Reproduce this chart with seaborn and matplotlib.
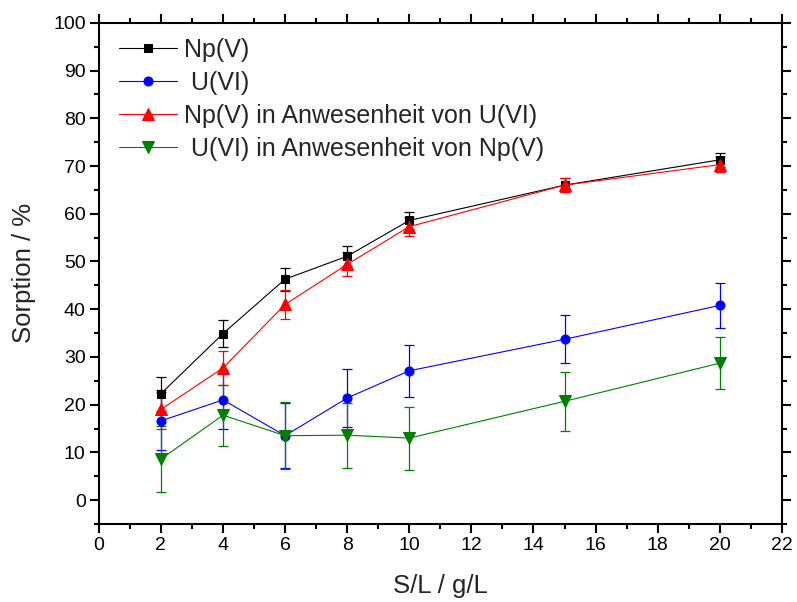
import matplotlib
matplotlib.use("Agg")
import matplotlib.pyplot as plt
import seaborn as sns
import pandas as pd
import numpy as np
from matplotlib.ticker import MultipleLocator

sl = [2, 4, 6, 8, 10, 15, 20]
np_v = [22.3, 34.9, 46.3, 51.1, 58.6, 66.0, 71.3]
np_v_err = [3.6, 2.9, 2.4, 2.1, 1.7, 1.4, 1.4]
u_vi = [16.6, 21.0, 13.5, 21.4, 27.1, 33.7, 40.8]
u_vi_err = [6.0, 6.2, 6.8, 6.0, 5.5, 5.0, 4.7]
np_u = [19.0, 27.7, 41.0, 49.4, 57.3, 66.0, 70.3]
np_u_err = [4.0, 3.5, 3.0, 2.5, 2.0, 1.5, 1.5]
u_np = [8.6, 17.8, 13.5, 13.6, 13.0, 20.7, 28.7]
u_np_err = [7.0, 6.4, 7.0, 6.8, 6.6, 6.2, 5.5]

labels = ["Np(V)", " U(VI)", "Np(V) in Anwesenheit von U(VI)", " U(VI) in Anwesenheit von Np(V)"]
series = [np_v, u_vi, np_u, u_np]
errs = [np_v_err, u_vi_err, np_u_err, u_np_err]
colors = ["black", "#0000ff", "#ff0000", "#007f00"]
markers = ["s", "o", "^", "v"]
msizes = [5.5, 6.5, 8.5, 8.5]

rows = []
for lab, ys in zip(labels, series):
    for x, y in zip(sl, ys):
        rows.append({"S/L": x, "Sorption": y, "Serie": lab})
df = pd.DataFrame(rows)

sns.set_style("ticks")
plt.rcParams["font.family"] = ["Liberation Sans", "DejaVu Sans"]

fig = plt.figure(figsize=(7.97, 6.02), dpi=100)
ax = fig.add_axes([0.124, 0.1296, 0.857, 0.8324])

for lab, ys, e, c in zip(labels, series, errs, colors):
    ax.errorbar(sl, ys, yerr=e, fmt="none", ecolor=c, elinewidth=0.9,
                capsize=3.6, capthick=0.9, zorder=2)

for lab, c, m, ms in zip(labels, colors, markers, msizes):
    sub = df[df["Serie"] == lab]
    sns.lineplot(data=sub, x="S/L", y="Sorption", ax=ax, color=c, marker=m,
                 markersize=ms, markeredgecolor=c, linewidth=0.8, label=lab,
                 zorder=3)

ax.set_xlim(0, 22)
ax.set_ylim(-5, 100)
ax.xaxis.set_major_locator(MultipleLocator(2))
ax.xaxis.set_minor_locator(MultipleLocator(1))
ax.yaxis.set_major_locator(MultipleLocator(10))
ax.yaxis.set_minor_locator(MultipleLocator(5))
ax.tick_params(which="both", direction="out", top=True, right=True,
               labeltop=False, labelright=False, width=1.5, labelsize=14,
               colors="black")
ax.tick_params(which="major", length=6.5, pad=3)
ax.tick_params(which="minor", length=3.6)
for s in ax.spines.values():
    s.set_linewidth(1.5)
    s.set_visible(True)
    s.set_color("black")

ax.set_xlabel("S/L / g/L", fontsize=18.5, labelpad=14)
ax.set_ylabel("Sorption / %", fontsize=18.5, labelpad=12)

leg = ax.legend(loc="upper left", frameon=False, fontsize=18, handlelength=2.3,
                handletextpad=0.3, labelspacing=0.36, borderaxespad=0.0,
                bbox_to_anchor=(0.015, 0.99))

fig.savefig("out.png", dpi=100)
